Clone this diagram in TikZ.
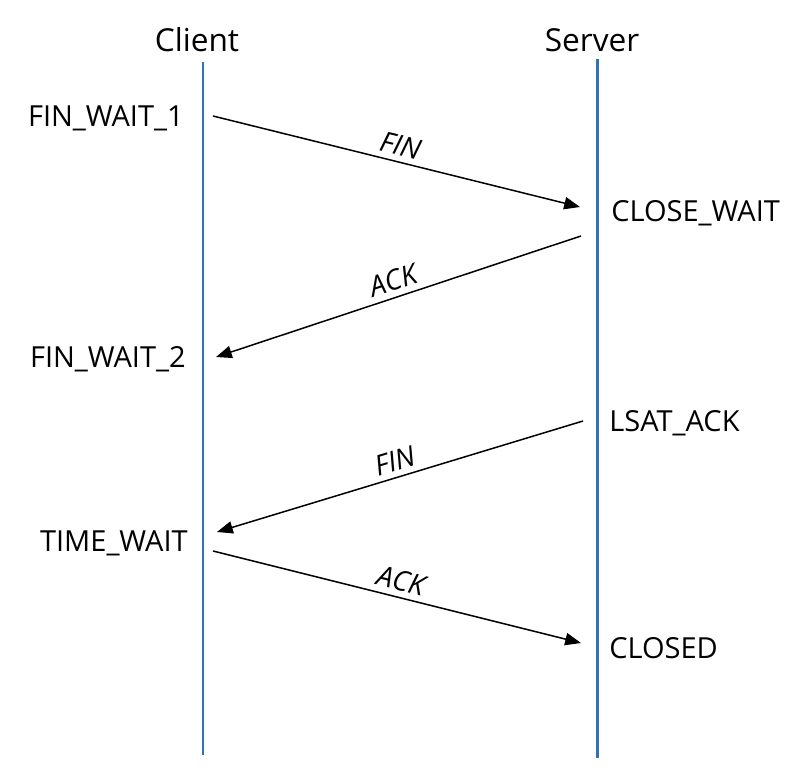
\documentclass[tikz,border=0pt]{standalone}
\usepackage{fontspec}
\setmainfont{Open Sans}
\usetikzlibrary{arrows.meta}
\definecolor{lifeblue}{RGB}{46,117,182}
\begin{document}
\begin{tikzpicture}[x=0.02cm,y=-0.02cm,
    lifeline/.style={line width=1.7pt,color=lifeblue},
    msg/.style={line width=0.85pt,-{Triangle[length=9pt,width=7pt]}},
    msglabel/.style={midway,sloped,above,font=\fontsize{16}{19}\selectfont\itshape},
    state/.style={inner sep=0pt,font=\fontsize{16.5}{20}\selectfont},
    party/.style={inner sep=0pt,anchor=base,font=\fontsize{18}{22}\selectfont}]
  \useasboundingbox (0,0) rectangle (798,778);

  \node [party] (client) at (197,51) {Client};
  \node [party] (server) at (592,51) {Server};

  \draw [lifeline] (203,62) -- (203,755);
  \draw [lifeline] (597,59) -- (597,758);

  % client side states
  \node [state,anchor=base east] (finwait1) at (184,126) {FIN\_WAIT\_1};
  \node [state,anchor=base east] (finwait2) at (186,367) {FIN\_WAIT\_2};
  \node [state,anchor=base east] (timewait) at (188,551) {TIME\_WAIT};

  % server side states
  \node [state,anchor=base west] (closewait) at (611,221) {CLOSE\_WAIT};
  \node [state,anchor=base west] (lastack) at (609,431) {LSAT\_ACK};
  \node [state,anchor=base west] (closed) at (609,658) {CLOSED};

  \coordinate (c1) at (213,116);
  \coordinate (s1) at (580,207);
  \coordinate (s2) at (581,236);
  \coordinate (c2) at (216,357);
  \coordinate (s3) at (583,421);
  \coordinate (c3) at (217,532);
  \coordinate (c4) at (213,551);
  \coordinate (s4) at (581,643);

  \draw [msg] (c1) -- (s1) node [msglabel] {FIN};
  \draw [msg] (s2) -- (c2) node [msglabel] {ACK};
  \draw [msg] (s3) -- (c3) node [msglabel] {FIN};
  \draw [msg] (c4) -- (s4) node [msglabel] {ACK};
\end{tikzpicture}
\end{document}
